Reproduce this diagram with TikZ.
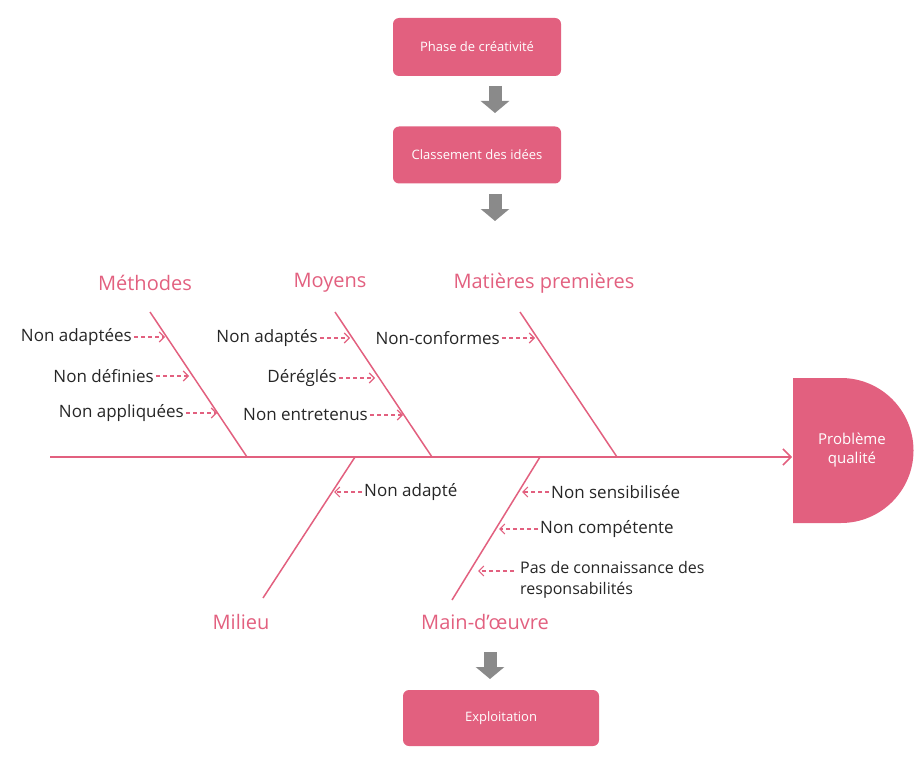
\documentclass[tikz,border=0pt]{standalone}
\usepackage{fontspec}
\setmainfont{Open Sans}
\usetikzlibrary{arrows.meta}
\definecolor{pk}{HTML}{E2607F}
\definecolor{gr}{HTML}{8A8A8A}
\begin{document}
\begin{tikzpicture}[x=1pt,y=-1pt,
box/.style={fill=pk,rounded corners=6pt,text=white,font=\fontsize{13}{15}\selectfont,inner sep=0},
bone/.style={draw=pk,line width=1.5pt},
cat/.style={text=pk,font=\fontsize{20}{24}\selectfont},
lbl/.style={font=\fontsize{17}{20}\selectfont,text=black!85,inner sep=2pt},
da/.style={draw=pk,dashed,dash pattern=on 4pt off 3pt,line width=1.1pt,-{Straight Barb[length=5pt]}},
garr/.style={gr,line width=13pt,-{Triangle[length=12pt,width=28pt]}}]
\useasboundingbox (0,0) rectangle (923,770);
\node[box,minimum width=168pt,minimum height=58pt] (p) at (477,47) {Phase de créativité};
\node[box,minimum width=168pt,minimum height=57pt] (c) at (477,155) {Classement des idées};
\node[box,minimum width=196pt,minimum height=56pt] (e) at (501,718) {Exploitation};
\coordinate (a1) at (495,86); \coordinate (a2) at (495,113);
\coordinate (b1) at (495,194); \coordinate (b2) at (495,221);
\coordinate (c1) at (490,652); \coordinate (c2) at (490,679);
\draw[garr] (a1) -- (a2);
\draw[garr] (b1) -- (b2);
\draw[garr] (c1) -- (c2);
% head
\fill[pk] (793,378) -- (841,378) arc[start angle=-90,end angle=90,radius=72.5] -- (793,523) -- cycle;
\node[text=white,align=center,font=\fontsize{15}{19}\selectfont] (h) at (852,450) {Problème\\qualité};
% spine
\coordinate (s0) at (50,457); \coordinate (s1) at (792,457);
\draw[bone,-{Straight Barb[length=8pt]}] (s0) -- (s1);
% bones
\coordinate (m1) at (150,312); \coordinate (m2) at (247,457);
\coordinate (y1) at (335,312); \coordinate (y2) at (432,457);
\coordinate (t1) at (520,312); \coordinate (t2) at (617,457);
\coordinate (l1) at (355,457); \coordinate (l2) at (263,598);
\coordinate (w1) at (540,457); \coordinate (w2) at (452,600);
\draw[bone] (m1)--(m2); \draw[bone] (y1)--(y2); \draw[bone] (t1)--(t2);
\draw[bone] (l1)--(l2); \draw[bone] (w1)--(w2);
\node[cat] (cm) at (145,283) {Méthodes};
\node[cat] (cy) at (330,283) {Moyens};
\node[cat] (ct) at (544,283) {Matières premières};
\node[cat] (cl) at (241,622) {Milieu};
\node[cat] (cw) at (485,622) {Main-d’œuvre};
% left sub causes
\node[lbl,anchor=east] (n1) at (134,337) {Non adaptées};
\node[lbl,anchor=east] (n2) at (156,376) {Non définies};
\node[lbl,anchor=east] (n3) at (186,413) {Non appliquées};
\coordinate (n1e) at (165,337); \coordinate (n2e) at (189,376); \coordinate (n3e) at (217,413);
\draw[da] (n1) -- (n1e); \draw[da] (n2) -- (n2e); \draw[da] (n3) -- (n3e);
\node[lbl,anchor=east] (o1) at (320,338) {Non adaptés};
\node[lbl,anchor=east] (o2) at (339,378) {Déréglés};
\node[lbl,anchor=east] (o3) at (370,415) {Non entretenus};
\coordinate (o1e) at (350,338); \coordinate (o2e) at (375,378); \coordinate (o3e) at (403,415);
\draw[da] (o1) -- (o1e); \draw[da] (o2) -- (o2e); \draw[da] (o3) -- (o3e);
\node[lbl,anchor=east] (q1) at (502,338) {Non-conformes};
\coordinate (q1e) at (535,338);
\draw[da] (q1) -- (q1e);
% lower
\node[lbl,anchor=west] (r1) at (362,492) {Non adapté};
\coordinate (r1e) at (334,492);
\draw[da] (r1) -- (r1e);
\node[lbl,anchor=west] (w3) at (549,492) {Non sensibilisée};
\node[lbl,anchor=west] (w4) at (538,529) {Non compétente};
\node[lbl,anchor=west,align=left,font=\fontsize{16}{21}\selectfont] (w5) at (518,580) {Pas de connaissance des\\responsabilités};
\coordinate (w3e) at (522,492); \coordinate (w4e) at (499,529); \coordinate (w5e) at (478,571);
\coordinate (w5s) at (514,571);
\draw[da] (w3) -- (w3e); \draw[da] (w4) -- (w4e); \draw[da] (w5s) -- (w5e);
\end{tikzpicture}
\end{document}
